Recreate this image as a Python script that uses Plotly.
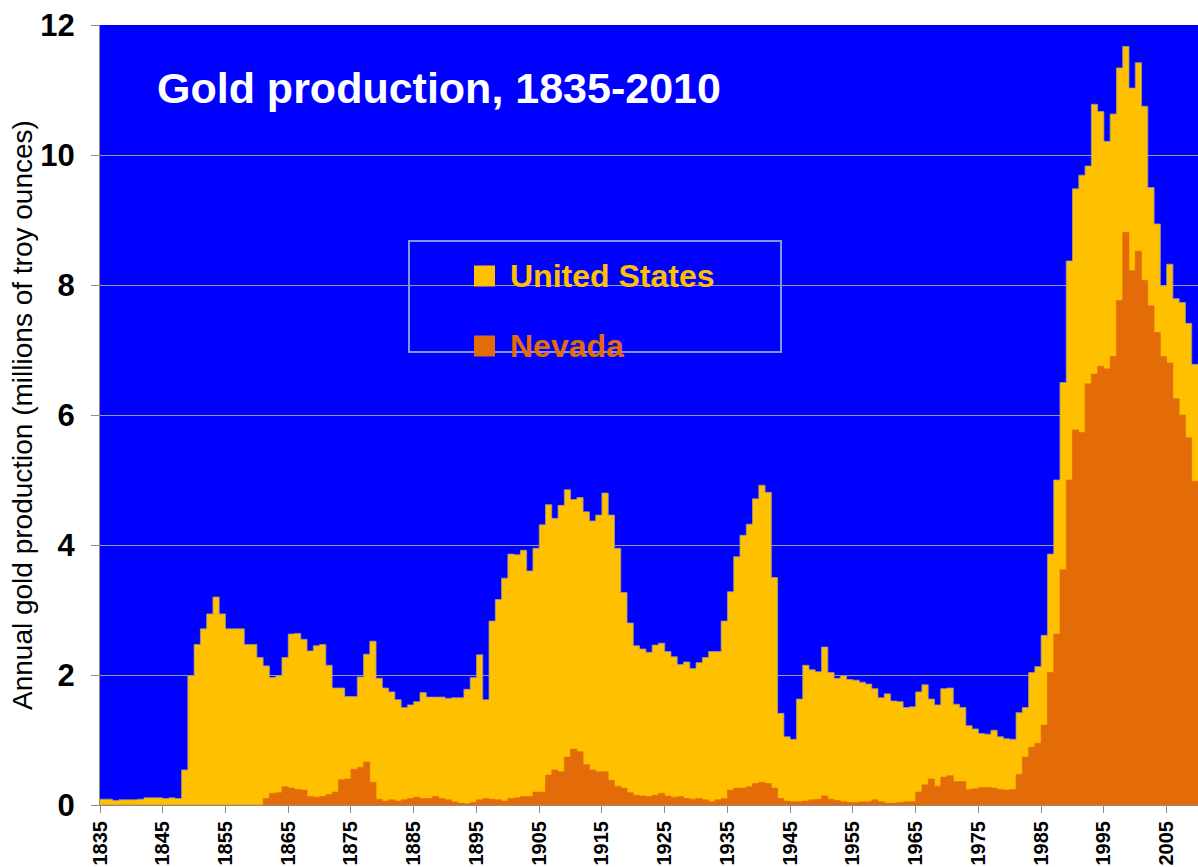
import plotly.graph_objects as go

years = list(range(1835, 2010))

us_prod = [
    0.09, 0.09, 0.07, 0.08, 0.08, 0.08, 0.09, 0.11, 0.11, 0.11,   # 1835-1844
    0.10, 0.11, 0.10, 0.54, 1.99, 2.47, 2.71, 2.94, 3.20, 2.94,   # 1845-1854
    2.71, 2.71, 2.71, 2.47, 2.47, 2.27, 2.14, 1.96, 1.99, 2.27,   # 1855-1864
    2.63, 2.64, 2.55, 2.37, 2.45, 2.47, 2.15, 1.80, 1.80, 1.67,   # 1865-1874
    1.67, 1.97, 2.32, 2.52, 1.95, 1.80, 1.74, 1.62, 1.50, 1.54,   # 1875-1884
    1.59, 1.73, 1.66, 1.66, 1.66, 1.64, 1.65, 1.65, 1.78, 1.96,   # 1885-1894
    2.31, 1.62, 2.83, 3.16, 3.49, 3.86, 3.85, 3.92, 3.60, 3.95,   # 1895-1904
    4.31, 4.62, 4.41, 4.61, 4.85, 4.70, 4.73, 4.51, 4.37, 4.46,   # 1905-1914
    4.80, 4.46, 3.95, 3.27, 2.80, 2.45, 2.40, 2.35, 2.46, 2.49,   # 1915-1924
    2.36, 2.28, 2.16, 2.20, 2.10, 2.19, 2.27, 2.36, 2.36, 2.83,   # 1925-1934
    3.28, 3.82, 4.15, 4.32, 4.71, 4.92, 4.81, 3.50, 1.41, 1.05,   # 1935-1944
    1.01, 1.63, 2.15, 2.08, 2.05, 2.43, 2.04, 1.95, 1.99, 1.93,   # 1945-1954
    1.92, 1.89, 1.86, 1.79, 1.65, 1.71, 1.60, 1.59, 1.50, 1.51,   # 1955-1964
    1.74, 1.85, 1.63, 1.54, 1.79, 1.80, 1.55, 1.50, 1.22, 1.17,   # 1965-1974
    1.10, 1.09, 1.15, 1.05, 1.02, 1.01, 1.42, 1.50, 2.04, 2.13,   # 1975-1984
    2.61, 3.86, 5.00, 6.50, 8.37, 9.48, 9.69, 9.83, 10.78, 10.67, # 1985-1994
    10.21, 10.63, 11.34, 11.67, 11.03, 11.42, 10.75, 9.50, 8.94, 7.99,  # 1995-2004
    8.32, 7.79, 7.73, 7.41, 6.78,                                 # 2005-2009
]

nevada_prod = [
    0, 0, 0, 0, 0, 0, 0, 0, 0, 0,                                 # 1835-1844
    0, 0, 0, 0, 0, 0, 0, 0, 0, 0,                                 # 1845-1854
    0, 0, 0, 0, 0, 0, 0.10, 0.18, 0.19, 0.28,                     # 1855-1864
    0.26, 0.24, 0.23, 0.13, 0.12, 0.13, 0.16, 0.20, 0.39, 0.40,   # 1865-1874
    0.55, 0.58, 0.66, 0.35, 0.09, 0.06, 0.08, 0.06, 0.08, 0.10,   # 1875-1884
    0.12, 0.10, 0.10, 0.13, 0.10, 0.08, 0.05, 0.03, 0.02, 0.04,   # 1885-1894
    0.08, 0.10, 0.09, 0.08, 0.06, 0.10, 0.11, 0.13, 0.13, 0.20,   # 1895-1904
    0.20, 0.46, 0.54, 0.51, 0.74, 0.86, 0.82, 0.62, 0.54, 0.51,   # 1905-1914
    0.51, 0.38, 0.29, 0.26, 0.19, 0.15, 0.14, 0.13, 0.15, 0.18,   # 1915-1924
    0.14, 0.12, 0.13, 0.10, 0.09, 0.10, 0.08, 0.05, 0.08, 0.10,   # 1925-1934
    0.23, 0.26, 0.26, 0.28, 0.33, 0.35, 0.33, 0.26, 0.10, 0.06,   # 1935-1944
    0.05, 0.05, 0.06, 0.08, 0.09, 0.14, 0.09, 0.07, 0.05, 0.04,   # 1945-1954
    0.04, 0.05, 0.05, 0.08, 0.05, 0.03, 0.03, 0.04, 0.05, 0.05,   # 1955-1964
    0.20, 0.31, 0.40, 0.29, 0.43, 0.45, 0.36, 0.36, 0.24, 0.25,   # 1965-1974
    0.27, 0.27, 0.26, 0.24, 0.23, 0.24, 0.47, 0.74, 0.89, 0.95,   # 1975-1984
    1.23, 2.04, 2.63, 3.62, 5.00, 5.77, 5.73, 6.48, 6.63, 6.75,   # 1985-1994
    6.71, 6.90, 7.76, 8.81, 8.22, 8.52, 8.07, 7.68, 7.27, 6.90,   # 1995-2004
    6.80, 6.25, 6.00, 5.65, 4.98,                                 # 2005-2009
]

tick_years = list(range(1835, 2006, 10))
tick_labels = [str(y) for y in tick_years]

US_COLOR = "#FFC000"
NV_COLOR = "#E36C09"
BG_BLUE = "#0000FF"
GRID = "#9a9ab4"
AXIS_GREY = "#8c8c8c"

# stepped area: each year holds its value until the next one starts
x_step = years + [years[-1] + 1]
us_step = us_prod + [us_prod[-1]]
nv_step = nevada_prod + [nevada_prod[-1]]

fig = go.Figure()
fig.add_trace(go.Scatter(x=x_step, y=us_step, name="United States", mode="lines",
                         line=dict(shape="hv", color="#a09a80", width=0.8),
                         fill="tozeroy", fillcolor=US_COLOR))
fig.add_trace(go.Scatter(x=x_step, y=nv_step, name="Nevada", mode="lines",
                         line=dict(shape="hv", color=NV_COLOR, width=0.6),
                         fill="tozeroy", fillcolor=NV_COLOR))

fig.update_layout(
    width=1198, height=867,
    showlegend=False,
    plot_bgcolor=BG_BLUE,
    paper_bgcolor="white",
    margin=dict(l=100, r=0, t=25, b=62),
    font=dict(family="Liberation Sans, Arial, sans-serif", color="black"),
)

fig.update_xaxes(
    range=[1835, 2010], automargin=False,
    tickvals=tick_years, ticktext=tick_labels,
    tickangle=-90,
    tickfont=dict(size=20, family="Liberation Sans, Arial", weight="bold"),
    ticks="outside", ticklen=7, tickcolor=AXIS_GREY,
    showline=True, linecolor=AXIS_GREY, linewidth=1,
    showgrid=False, zeroline=False,
)
fig.update_yaxes(
    range=[0, 12], dtick=2, automargin=False,
    tickfont=dict(size=31, family="Liberation Sans, Arial", weight="bold"),
    ticks="outside", ticklen=8, tickcolor=AXIS_GREY,
    ticklabelstandoff=10,
    showline=True, linecolor=AXIS_GREY, linewidth=1,
    showgrid=True, gridcolor=GRID, gridwidth=1,
    zeroline=False,
)

# y-axis title placed by hand so it sits at the far left edge
fig.add_annotation(
    text="Annual gold production (millions of troy ounces)",
    xref="paper", yref="paper", x=(22 - 100) / 1098, y=0.5,
    xanchor="center", yanchor="middle", textangle=-90, showarrow=False,
    font=dict(size=28, family="Liberation Sans, Arial"),
)

# chart title inside the plot
fig.add_annotation(
    text="<b>Gold production, 1835-2010</b>",
    xref="paper", yref="paper", x=(155 - 100) / 1098, y=(805 - 88) / 780,
    xanchor="left", yanchor="middle", showarrow=False,
    font=dict(size=43, color="white", family="Liberation Sans, Arial"),
)

# legend box drawn by hand
fig.add_shape(type="rect", xref="paper", yref="paper",
              x0=(409 - 100) / 1098, x1=(781 - 100) / 1098,
              y0=(805 - 352) / 780, y1=(805 - 241) / 780,
              line=dict(color="#7f9ad6", width=2), fillcolor="rgba(0,0,0,0)")
legend_items = [("United States", US_COLOR, 276), ("Nevada", NV_COLOR, 346)]
for label, color, py in legend_items:
    yc = (805 - py) / 780
    fig.add_shape(type="rect", xref="paper", yref="paper",
                  x0=(474 - 100) / 1098, x1=(495 - 100) / 1098,
                  y0=yc - 10.5 / 780, y1=yc + 10.5 / 780,
                  line=dict(width=0), fillcolor=color)
    fig.add_annotation(text="<b>" + label + "</b>", xref="paper", yref="paper",
                       x=(508 - 100) / 1098, y=yc, xanchor="left", yanchor="middle",
                       showarrow=False,
                       font=dict(size=32, color=color, family="Liberation Sans, Arial"))

# drop the browser's default page margin so the figure fills the window exactly
fig.write_html("out.html", config={"displayModeBar": False},
               post_script="document.body.style.margin = '0';")
